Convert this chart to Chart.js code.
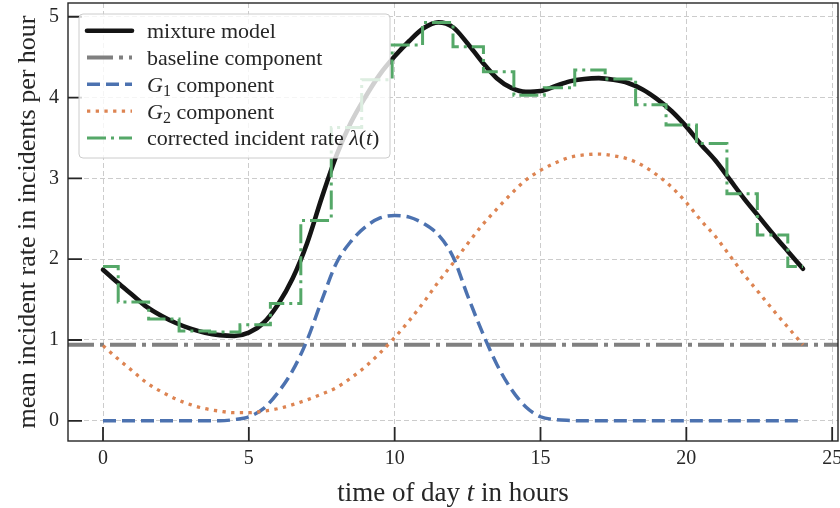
<!DOCTYPE html>
<html>
<head>
<meta charset="utf-8">
<script src="https://cdn.jsdelivr.net/npm/chart.js@4.4.1/dist/chart.umd.min.js"></script>
<style>
  html, body { margin: 0; padding: 0; background: #fff; }
  #wrap { width: 840px; height: 508px; position: relative; }
</style>
</head>
<body>
<div id="wrap"><canvas id="rateChart"></canvas></div>
<script>
// Half-hour grid used for the smooth model curves
const hours = [0, 0.5, 1, 1.5, 2, 2.5, 3, 3.5, 4, 4.5, 5, 5.5, 6, 6.5, 7, 7.5, 8, 8.5,
  9, 9.5, 10, 10.5, 11, 11.5, 12, 12.5, 13, 13.5, 14, 14.5, 15, 15.5, 16, 16.5, 17,
  17.5, 18, 18.5, 19, 19.5, 20, 20.5, 21, 21.5, 22, 22.5, 23, 23.5, 24];

const mixtureRate = [1.87, 1.71, 1.56, 1.41, 1.30, 1.21, 1.14, 1.09, 1.06, 1.05, 1.09,
  1.21, 1.44, 1.76, 2.20, 2.76, 3.28, 3.69, 4.01, 4.29, 4.51, 4.70, 4.86, 4.93, 4.87,
  4.67, 4.44, 4.24, 4.12, 4.07, 4.08, 4.14, 4.20, 4.23, 4.24, 4.22, 4.18, 4.10, 3.98,
  3.83, 3.64, 3.42, 3.22, 2.98, 2.74, 2.52, 2.30, 2.09, 1.88];

const g1Rate = [0, 0, 0, 0, 0, 0, 0, 0, 0, 0.015, 0.05, 0.15, 0.35, 0.62, 1.00, 1.49,
  1.95, 2.22, 2.40, 2.51, 2.54, 2.52, 2.44, 2.30, 2.03, 1.55, 1.10, 0.70, 0.39, 0.17,
  0.05, 0.015, 0.004, 0, 0, 0, 0, 0, 0, 0, 0, 0, 0, 0, 0, 0, 0, 0, 0];

const g2Rate = [0.93, 0.77, 0.62, 0.47, 0.36, 0.27, 0.20, 0.15, 0.12, 0.10, 0.10, 0.12,
  0.15, 0.20, 0.26, 0.33, 0.41, 0.53, 0.67, 0.84, 1.03, 1.24, 1.47, 1.72, 1.95, 2.19,
  2.42, 2.62, 2.81, 2.98, 3.10, 3.19, 3.26, 3.29, 3.30, 3.28, 3.24, 3.16, 3.04, 2.89,
  2.70, 2.48, 2.28, 2.04, 1.80, 1.58, 1.36, 1.15, 0.94];

// constant baseline spans the whole axis
const baselineHours = [-1.2, 25.2];
const baselineRate = [0.94, 0.94];

// 24 bins over the day, drawn as mid-steps
const binHours = [0, 1.043, 2.087, 3.130, 4.174, 5.217, 6.261, 7.304, 8.348, 9.391,
  10.435, 11.478, 12.522, 13.565, 14.609, 15.652, 16.696, 17.739, 18.783, 19.826,
  20.870, 21.913, 22.957, 24];
const correctedRate = [1.91, 1.47, 1.26, 1.11, 1.10, 1.19, 1.45, 2.48, 3.63, 4.22,
  4.65, 4.93, 4.63, 4.32, 4.03, 4.12, 4.34, 4.23, 3.91, 3.66, 3.43, 2.81, 2.30, 1.91];

const xTicks = [0, 5, 10, 15, 20, 25];
const yTicks = [0, 1, 2, 3, 4, 5];

const INK = '#262626';
const SERIF = '"Liberation Serif", "DejaVu Serif", serif';

const styles = {
  mixture:   { color: '#141414', width: 4.6, dash: [] },
  baseline:  { color: '#808080', width: 4, dash: [26, 6, 4, 6] },
  g1:        { color: '#4c72b0', width: 3.5, dash: [13, 6] },
  g2:        { color: '#dd8452', width: 3.3, dash: [3.3, 5.4] },
  corrected: { color: '#55a868', width: 3, dash: [19, 5, 3, 5] }
};

const toPoints = (xs, ys) => xs.map((x, i) => ({ x: x, y: ys[i] }));

// legend entries, text split into plain / italic / subscript runs
const legendEntries = [
  { style: styles.mixture, parts: [{ t: 'mixture model' }] },
  { style: styles.baseline, parts: [{ t: 'baseline component' }] },
  { style: styles.g1, parts: [{ t: 'G', it: true }, { t: '1', sub: true }, { t: ' component' }] },
  { style: styles.g2, parts: [{ t: 'G', it: true }, { t: '2', sub: true }, { t: ' component' }] },
  { style: styles.corrected, parts: [{ t: 'corrected incident rate ' }, { t: 'λ', it: true },
    { t: '(' }, { t: 't', it: true }, { t: ')' }] }
];

function partFont(p, size) {
  if (p.sub) return Math.round(size * 0.72) + 'px ' + SERIF;
  return (p.it ? 'italic ' : '') + size + 'px ' + SERIF;
}

function richWidth(ctx, parts, size) {
  let w = 0;
  parts.forEach(p => { ctx.font = partFont(p, size); w += ctx.measureText(p.t).width; });
  return w;
}

function drawRich(ctx, parts, x, y, size) {
  ctx.textBaseline = 'alphabetic';
  ctx.textAlign = 'left';
  parts.forEach(p => {
    ctx.font = partFont(p, size);
    ctx.fillText(p.t, x, y + (p.sub ? size * 0.2 : 0));
    x += ctx.measureText(p.t).width;
  });
}

const decorations = {
  id: 'decorations',
  afterDatasetsDraw(chart) {
    const ctx = chart.ctx;
    const area = chart.chartArea;
    const xs = chart.scales.x, ys = chart.scales.y;
    ctx.save();

    // inward tick marks
    ctx.strokeStyle = INK;
    ctx.lineWidth = 1.8;
    ctx.setLineDash([]);
    ctx.beginPath();
    xTicks.forEach(v => {
      const px = xs.getPixelForValue(v);
      ctx.moveTo(px, area.bottom);
      ctx.lineTo(px, area.bottom - 14);
    });
    yTicks.forEach(v => {
      const py = ys.getPixelForValue(v);
      ctx.moveTo(area.left, py);
      ctx.lineTo(area.left + 14, py);
    });
    ctx.stroke();

    // frame
    ctx.lineWidth = 1.4;
    ctx.strokeRect(area.left, area.top, area.right - area.left, area.bottom - area.top);

    // legend
    const box = { x: 79, y: 14, w: 311, h: 144 };
    ctx.beginPath();
    ctx.roundRect(box.x, box.y, box.w, box.h, 4);
    ctx.fillStyle = 'rgba(255,255,255,0.8)';
    ctx.fill();
    ctx.strokeStyle = '#cccccc';
    ctx.lineWidth = 1;
    ctx.stroke();

    legendEntries.forEach((e, i) => {
      const rowY = 30.7 + i * 26.8;
      ctx.beginPath();
      ctx.strokeStyle = e.style.color;
      ctx.lineWidth = e.style.width;
      ctx.lineCap = e.style.dash.length ? 'butt' : 'round';
      ctx.setLineDash(e.style.dash);
      ctx.moveTo(87, rowY);
      ctx.lineTo(132, rowY);
      ctx.stroke();
      ctx.setLineDash([]);
      ctx.fillStyle = INK;
      drawRich(ctx, e.parts, 147, rowY + 7.5, 22);
    });

    // axis titles
    ctx.fillStyle = INK;
    const xTitle = [{ t: 'time of day ' }, { t: 't', it: true }, { t: ' in hours' }];
    const xw = richWidth(ctx, xTitle, 27);
    drawRich(ctx, xTitle, (area.left + area.right) / 2 - xw / 2, 501, 27);

    ctx.translate(34.5, (area.top + area.bottom) / 2);
    ctx.rotate(-Math.PI / 2);
    ctx.font = '26px ' + SERIF;
    ctx.textAlign = 'center';
    ctx.textBaseline = 'alphabetic';
    ctx.fillText('mean incident rate in incidents per hour', 0, 0);
    ctx.restore();
  }
};

function lineSet(label, points, style, extra) {
  return Object.assign({
    label: label,
    data: points,
    borderColor: style.color,
    backgroundColor: style.color,
    borderWidth: style.width,
    borderDash: style.dash,
    pointRadius: 0,
    fill: false
  }, extra);
}

new Chart(document.getElementById('rateChart').getContext('2d'), {
  type: 'line',
  data: {
    datasets: [
      lineSet('corrected incident rate', toPoints(binHours, correctedRate), styles.corrected,
        { stepped: 'middle', order: 0 }),
      lineSet('G2 component', toPoints(hours, g2Rate), styles.g2,
        { cubicInterpolationMode: 'monotone', order: 1 }),
      lineSet('G1 component', toPoints(hours, g1Rate), styles.g1,
        { cubicInterpolationMode: 'monotone', order: 2 }),
      lineSet('baseline component', toPoints(baselineHours, baselineRate), styles.baseline,
        { order: 3, clip: 0 }),
      lineSet('mixture model', toPoints(hours, mixtureRate), styles.mixture,
        { cubicInterpolationMode: 'monotone', borderCapStyle: 'round', borderJoinStyle: 'round', order: 4 })
    ]
  },
  options: {
    responsive: true,
    maintainAspectRatio: false,
    animation: false,
    events: [],
    layout: { padding: { top: 3, right: 2, left: 0, bottom: 0 } },
    plugins: {
      legend: { display: false },
      tooltip: { enabled: false }
    },
    scales: {
      x: {
        type: 'linear',
        min: -1.2,
        max: 25.2,
        afterBuildTicks: s => { s.ticks = xTicks.map(v => ({ value: v })); },
        afterFit: s => { s.height = 67; s.paddingLeft = 0; s.paddingRight = 0; },
        ticks: {
          autoSkip: false,
          maxRotation: 0,
          padding: 6,
          color: INK,
          font: { family: SERIF, size: 20 }
        },
        grid: { color: '#cccccc', lineWidth: 1, drawTicks: false },
        border: { display: false, dash: [5, 3] }
      },
      y: {
        type: 'linear',
        min: -0.25,
        max: 5.17,
        afterBuildTicks: s => { s.ticks = yTicks.map(v => ({ value: v })); },
        afterFit: s => { s.width = 68; s.paddingTop = 0; s.paddingBottom = 0; },
        ticks: {
          autoSkip: false,
          padding: 9,
          color: INK,
          font: { family: SERIF, size: 20 }
        },
        grid: { color: '#cccccc', lineWidth: 1, drawTicks: false },
        border: { display: false, dash: [5, 3] }
      }
    }
  },
  plugins: [decorations]
});
</script>
</body>
</html>
